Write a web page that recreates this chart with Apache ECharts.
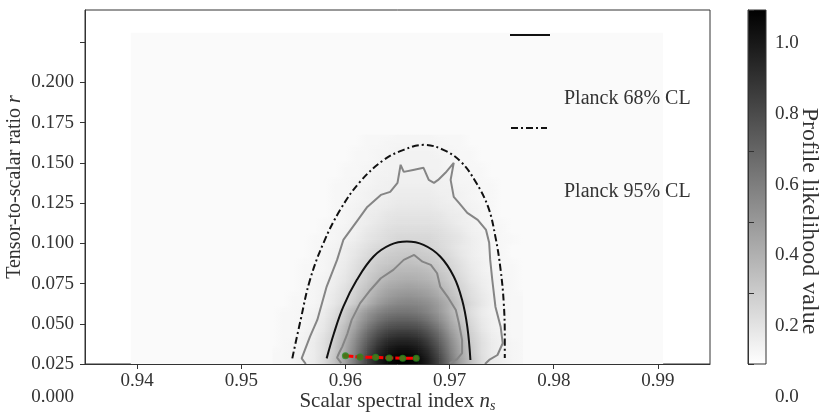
<!DOCTYPE html>
<html><head><meta charset="utf-8">
<script src="https://cdn.jsdelivr.net/npm/echarts@6/dist/echarts.min.js"></script>
<style>html,body{margin:0;padding:0;background:#fff}#chart{width:823px;height:412px}</style>
</head><body><div id="chart"></div>
<script>
// ---------------- data ----------------
const xTicks = [0.94, 0.95, 0.96, 0.97, 0.98, 0.99];
const yTicks = [0.025, 0.05, 0.075, 0.1, 0.125, 0.15, 0.175, 0.2, 0.225];
const yTickLabels = [0.025, 0.05, 0.075, 0.1, 0.125, 0.15, 0.175, 0.2];
const yExtraLabel = '0.000';
const cbTicks = [0, 0.2, 0.4, 0.6, 0.8, 1.0];
const colorbarRange = [0, 1];

// likelihood map: cell centres
const heatX = [0.953,0.954,0.955,0.956,0.957,0.958,0.959,0.960,0.961,0.962,0.963,0.964,0.965,0.966,0.967,0.968,0.969,0.970,0.971,0.972,0.973,0.974,0.975,0.976,0.977];
const heatY = [0.0275,0.0325,0.0375,0.0425,0.0475,0.0525,0.0575,0.0625,0.0675,0.0725,0.0775,0.0825,0.0875,0.0925,0.0975,0.1025,0.1075,0.1125,0.1175,0.1225,0.1275,0.1325,0.1375,0.1425,0.1475,0.1525,0.1575,0.1625,0.1675];
// rows from bottom (heatY[0]) to top
const likelihood = [
[0.03,0.03,0.04,0.06,0.08,0.14,0.24,0.37,0.54,0.73,0.87,0.97,1.00,1.00,0.97,0.87,0.73,0.54,0.37,0.24,0.14,0.08,0.06,0.04,0.03],
[0.03,0.03,0.04,0.05,0.08,0.13,0.22,0.35,0.51,0.69,0.83,0.92,0.96,0.96,0.92,0.83,0.69,0.51,0.35,0.22,0.13,0.08,0.05,0.04,0.03],
[0.02,0.03,0.04,0.05,0.08,0.13,0.21,0.33,0.48,0.64,0.77,0.86,0.89,0.89,0.86,0.77,0.64,0.48,0.33,0.21,0.13,0.08,0.05,0.04,0.03],
[0.02,0.03,0.03,0.05,0.07,0.12,0.19,0.30,0.44,0.59,0.70,0.78,0.81,0.81,0.78,0.70,0.59,0.44,0.30,0.19,0.12,0.07,0.05,0.03,0.03],
[0.02,0.03,0.03,0.04,0.06,0.10,0.17,0.27,0.38,0.52,0.62,0.69,0.71,0.71,0.69,0.62,0.52,0.38,0.27,0.17,0.10,0.06,0.04,0.03,0.03],
[0.02,0.03,0.03,0.04,0.06,0.09,0.15,0.23,0.34,0.45,0.54,0.60,0.62,0.62,0.60,0.54,0.45,0.34,0.23,0.15,0.09,0.06,0.04,0.03,0.03],
[0.02,0.03,0.03,0.04,0.05,0.08,0.13,0.21,0.30,0.40,0.47,0.52,0.54,0.54,0.52,0.47,0.40,0.30,0.21,0.13,0.08,0.05,0.04,0.03,0.03],
[0.02,0.02,0.03,0.03,0.04,0.06,0.10,0.15,0.22,0.30,0.38,0.44,0.47,0.48,0.47,0.44,0.38,0.30,0.22,0.15,0.10,0.06,0.04,0.03,0.03],
[0.02,0.02,0.03,0.03,0.04,0.06,0.09,0.13,0.19,0.26,0.33,0.38,0.41,0.42,0.41,0.38,0.33,0.26,0.19,0.13,0.09,0.06,0.04,0.03,0.03],
[0.02,0.02,0.02,0.03,0.04,0.05,0.08,0.12,0.17,0.23,0.29,0.34,0.36,0.37,0.36,0.34,0.29,0.23,0.17,0.12,0.08,0.05,0.04,0.03,0.02],
[0.02,0.02,0.02,0.03,0.04,0.05,0.07,0.10,0.15,0.20,0.25,0.29,0.31,0.32,0.31,0.29,0.25,0.20,0.15,0.10,0.07,0.05,0.04,0.03,0.02],
[0.02,0.02,0.02,0.03,0.03,0.04,0.06,0.09,0.13,0.18,0.22,0.26,0.28,0.28,0.28,0.26,0.22,0.18,0.13,0.09,0.06,0.04,0.03,0.03,0.02],
[0.02,0.02,0.02,0.03,0.03,0.04,0.06,0.08,0.12,0.16,0.20,0.22,0.24,0.25,0.24,0.22,0.20,0.16,0.12,0.08,0.06,0.04,0.03,0.03,0.02],
[0.02,0.02,0.02,0.02,0.03,0.04,0.05,0.07,0.10,0.14,0.17,0.20,0.21,0.22,0.21,0.20,0.17,0.14,0.10,0.07,0.05,0.04,0.03,0.02,0.02],
[0.02,0.02,0.02,0.02,0.03,0.04,0.05,0.07,0.09,0.12,0.15,0.17,0.19,0.19,0.19,0.17,0.15,0.12,0.09,0.07,0.05,0.04,0.03,0.02,0.02],
[0.02,0.02,0.02,0.02,0.03,0.03,0.04,0.05,0.07,0.10,0.12,0.14,0.16,0.16,0.16,0.16,0.14,0.12,0.10,0.07,0.05,0.04,0.03,0.03,0.02],
[0.02,0.02,0.02,0.02,0.02,0.03,0.04,0.05,0.06,0.09,0.11,0.13,0.14,0.14,0.14,0.14,0.13,0.11,0.09,0.06,0.05,0.04,0.03,0.02,0.02],
[0.02,0.02,0.02,0.02,0.02,0.03,0.03,0.04,0.06,0.07,0.09,0.11,0.12,0.12,0.12,0.12,0.11,0.09,0.07,0.06,0.04,0.03,0.03,0.02,0.02],
[0.02,0.02,0.02,0.02,0.02,0.02,0.03,0.04,0.05,0.07,0.08,0.10,0.11,0.11,0.11,0.11,0.10,0.08,0.07,0.05,0.04,0.03,0.02,0.02,0.02],
[0.02,0.02,0.02,0.02,0.02,0.02,0.03,0.04,0.05,0.06,0.07,0.08,0.09,0.09,0.09,0.09,0.08,0.07,0.06,0.05,0.04,0.03,0.02,0.02,0.02],
[0.02,0.02,0.02,0.02,0.02,0.02,0.03,0.03,0.04,0.05,0.06,0.07,0.08,0.08,0.08,0.08,0.07,0.06,0.05,0.04,0.03,0.03,0.02,0.02,0.02],
[0.02,0.02,0.02,0.02,0.02,0.02,0.03,0.03,0.04,0.05,0.06,0.06,0.07,0.07,0.07,0.07,0.06,0.06,0.05,0.04,0.03,0.03,0.02,0.02,0.02],
[0.02,0.02,0.02,0.02,0.02,0.02,0.03,0.03,0.04,0.04,0.05,0.06,0.06,0.06,0.06,0.06,0.06,0.05,0.04,0.04,0.03,0.03,0.02,0.02,0.02],
[0.02,0.02,0.02,0.02,0.02,0.02,0.02,0.03,0.03,0.04,0.05,0.05,0.06,0.06,0.06,0.06,0.05,0.05,0.04,0.03,0.03,0.02,0.02,0.02,0.02],
[0.02,0.02,0.02,0.02,0.02,0.02,0.02,0.03,0.03,0.04,0.04,0.05,0.05,0.05,0.05,0.05,0.05,0.04,0.04,0.03,0.03,0.02,0.02,0.02,0.02],
[0.02,0.02,0.02,0.02,0.02,0.02,0.02,0.02,0.03,0.03,0.04,0.05,0.05,0.05,0.05,0.05,0.05,0.04,0.03,0.03,0.02,0.02,0.02,0.02,0.02],
[0.02,0.02,0.02,0.02,0.02,0.02,0.02,0.02,0.03,0.03,0.04,0.04,0.05,0.05,0.05,0.05,0.04,0.04,0.03,0.03,0.02,0.02,0.02,0.02,0.02],
[0.02,0.02,0.02,0.02,0.02,0.02,0.02,0.02,0.02,0.03,0.03,0.04,0.04,0.04,0.04,0.04,0.04,0.03,0.03,0.02,0.02,0.02,0.02,0.02,0.02],
[0.02,0.02,0.02,0.02,0.02,0.02,0.02,0.02,0.02,0.03,0.03,0.03,0.04,0.04,0.04,0.04,0.03,0.03,0.03,0.02,0.02,0.02,0.02,0.02,0.02]
];
// faint level of the sampled domain outside the detailed map
const likelihoodDomainX = [0.9394, 0.9905];
const likelihoodDomainY = [0.025, 0.2308];
const domainLevel = 0.018;

// profile-likelihood contours (grey)
const contourOuter = [[0.9562,0.0250],[0.9558,0.0285],[0.9566,0.0420],[0.9573,0.0524],[0.9582,0.0731],[0.9592,0.0897],[0.9598,0.1021],[0.9612,0.1146],[0.9621,0.1226],[0.9634,0.1301],[0.9643,0.1320],[0.9650,0.1376],[0.9653,0.1488],[0.9656,0.1444],[0.9665,0.1456],[0.9675,0.1469],[0.9680,0.1394],[0.9685,0.1376],[0.9689,0.1394],[0.9696,0.1438],[0.9704,0.1500],[0.9701,0.1394],[0.9704,0.1289],[0.9709,0.1251],[0.9717,0.1189],[0.9727,0.1146],[0.9735,0.1083],[0.9738,0.1003],[0.9739,0.0897],[0.9741,0.0772],[0.9744,0.0606],[0.9749,0.0482],[0.9751,0.0379],[0.9746,0.0306],[0.9738,0.0275],[0.9734,0.0250]];
const contourInner = [[0.9596,0.0255],[0.9592,0.0290],[0.9594,0.0320],[0.9597,0.0358],[0.9602,0.0441],[0.9606,0.0524],[0.9614,0.0627],[0.9624,0.0710],[0.9634,0.0783],[0.9646,0.0835],[0.9656,0.0897],[0.9666,0.0928],[0.9674,0.0886],[0.9682,0.0866],[0.9688,0.0814],[0.9691,0.0731],[0.9699,0.0659],[0.9706,0.0586],[0.9709,0.0503],[0.9712,0.0399],[0.9712,0.0317],[0.9707,0.0279],[0.9700,0.0255]];

// Planck contours
const planck68 = [[0.9582,0.0285],[0.9589,0.0441],[0.9598,0.0607],[0.9611,0.0773],[0.9627,0.0918],[0.9643,0.0990],[0.9659,0.1011],[0.9675,0.0990],[0.9691,0.0918],[0.9704,0.0794],[0.9712,0.0649],[0.9717,0.0482],[0.9720,0.0275]];
const planck95 = [[0.9549,0.0285],[0.9557,0.0524],[0.9566,0.0773],[0.9579,0.1003],[0.9595,0.1208],[0.9614,0.1382],[0.9637,0.1519],[0.9656,0.1581],[0.9675,0.1612],[0.9694,0.1581],[0.9711,0.1506],[0.9725,0.1382],[0.9737,0.1226],[0.9744,0.1040],[0.9749,0.0835],[0.9752,0.0629],[0.9753,0.0418],[0.9753,0.0287]];

// best-fit track
const fitX = [0.9600, 0.9614, 0.9629, 0.9642, 0.9655, 0.9668];
const fitY = [0.0301, 0.0293, 0.0292, 0.0287, 0.0286, 0.0285];

// ---------------- chart ----------------
const FONT = 'Liberation Serif';
const TXT = '#333333';
const AX = '#333333';
const NR = heatY.length, NC = heatX.length;
const cellH = heatY[1] - heatY[0];

const heatData = [];
likelihood.forEach((row, r) => row.forEach((v, c) => heatData.push([heatX[c], heatY[r], v])));
const fitData = fitX.map((x, i) => [x, fitY[i]]);

function gray(v) {
  const g = Math.round(255 * (1 - Math.max(0, Math.min(1, v))));
  return 'rgb(' + g + ',' + g + ',' + g + ')';
}
function hGrad(vl, vr) {
  return new echarts.graphic.LinearGradient(0, 0, 1, 0, [{ offset: 0, color: gray(vl) }, { offset: 1, color: gray(vr) }]);
}
// each sample is drawn as the patch between its centre and its right/upper neighbours (smooth shading)
function renderCell(params, api) {
  const idx = params.dataIndex;
  const r = Math.floor(idx / NC), c = idx % NC;
  if (c === NC - 1 || r === NR - 1) return { type: 'group', children: [] };
  const x0 = api.value(0), y0 = api.value(1);
  const x1 = heatX[c + 1], y1 = heatY[r + 1];
  const vBL = likelihood[r][c], vBR = likelihood[r][c + 1];
  const vTL = likelihood[r + 1][c], vTR = likelihood[r + 1][c + 1];
  const pTL = api.coord([x0, y1]);
  const pBR = api.coord([x1, y0]);
  const w = pBR[0] - pTL[0], h = pBR[1] - pTL[1];
  const S = 4, children = [];
  for (let s = 0; s < S; s++) {
    const t = (s + 0.5) / S;
    children.push({ type: 'rect', shape: { x: pTL[0], y: pTL[1] + h * s / S, width: w + 0.6, height: h / S + 0.6 },
      style: { fill: hGrad(vTL + (vBL - vTL) * t, vTR + (vBR - vTR) * t) } });
  }
  if (r === 0) {
    const pB = api.coord([x1, y0 - cellH / 2]);
    children.push({ type: 'rect', shape: { x: pTL[0], y: pBR[1], width: w + 0.6, height: pB[1] - pBR[1] },
      style: { fill: hGrad(vBL, vBR) } });
  }
  return { type: 'group', children };
}
function renderDomain(params, api) {
  const p0 = api.coord([api.value(0), api.value(4)]);
  const p1 = api.coord([api.value(3), api.value(1)]);
  return { type: 'rect', shape: { x: p0[0], y: p0[1], width: p1[0] - p0[0], height: p1[1] - p0[1] },
           style: { fill: gray(api.value(2)) } };
}
function renderColorbar(params, api) {
  const p0 = api.coord([0, api.value(1)]);
  const p1 = api.coord([1, api.value(0)]);
  return { type: 'rect', shape: { x: p0[0], y: p0[1], width: p1[0] - p0[0], height: p1[1] - p0[1] },
           style: { fill: new echarts.graphic.LinearGradient(0, 0, 0, 1, [{ offset: 0, color: gray(api.value(1)) }, { offset: 1, color: gray(api.value(0)) }]),
                    stroke: AX, lineWidth: 1 } };
}

const chart = echarts.init(document.getElementById('chart'), null, { renderer: 'canvas' });
const labelFont = { fontFamily: FONT, fontSize: 19, color: TXT };

chart.setOption({
  animation: false,
  backgroundColor: '#ffffff',
  grid: [
    { left: 85, top: 10, width: 625, height: 354, show: true, borderColor: AX, borderWidth: 1, backgroundColor: 'transparent',
      containLabel: false, outerBoundsMode: 'none' },
    { left: 748, top: 10, width: 18, height: 354, containLabel: false, outerBoundsMode: 'none' }
  ],
  xAxis: [
    { gridIndex: 0, type: 'value', min: 0.935, max: 0.995, z: 10,
      axisLine: { show: true, onZero: false, lineStyle: { color: AX, width: 1 } },
      axisTick: { show: true, customValues: xTicks, length: 5, lineStyle: { color: AX } },
      axisLabel: Object.assign({ customValues: xTicks, formatter: v => v.toFixed(2), margin: 8 }, labelFont),
      splitLine: { show: false },
      name: 'Scalar spectral index {i|n}{s|s}', nameLocation: 'middle', nameGap: 26, nameMoveOverlap: false,
      nameTextStyle: { fontFamily: FONT, fontSize: 21, color: TXT,
        rich: { i: { fontFamily: FONT, fontSize: 21, fontStyle: 'italic', color: TXT },
                s: { fontFamily: FONT, fontSize: 14, fontStyle: 'italic', color: TXT, padding: [9, 0, 0, 0] } } } },
    { gridIndex: 1, type: 'value', min: 0, max: 1, show: false }
  ],
  yAxis: [
    { gridIndex: 0, type: 'value', min: 0.025, max: 0.245, z: 10,
      axisLine: { show: true, onZero: false, lineStyle: { color: AX, width: 1 } },
      axisTick: { show: true, customValues: yTicks, length: 5, lineStyle: { color: AX } },
      axisLabel: Object.assign({ customValues: yTickLabels, formatter: v => v.toFixed(3), margin: 11 }, labelFont),
      splitLine: { show: false },
      name: 'Tensor-to-scalar ratio {i|r}', nameLocation: 'middle', nameRotate: 90, nameGap: 60, nameMoveOverlap: false,
      nameTextStyle: { fontFamily: FONT, fontSize: 20, color: TXT,
        rich: { i: { fontFamily: FONT, fontSize: 20, fontStyle: 'italic', color: TXT } } } },
    { gridIndex: 1, type: 'value', min: 0, max: 1, position: 'right', z: 10,
      axisLine: { show: true, lineStyle: { color: AX } },
      axisTick: { show: true, customValues: cbTicks, length: 6, lineStyle: { color: AX } },
      axisLabel: Object.assign({ customValues: cbTicks, formatter: v => '{p|' + v.toFixed(1) + '}', margin: 9,
        rich: { p: { fontFamily: FONT, fontSize: 19, color: TXT, padding: [66, 0, 0, 0] } } }, labelFont),
      splitLine: { show: false },
      name: 'Profile likelihood value', nameLocation: 'middle', nameRotate: -90, nameGap: 31, nameMoveOverlap: false,
      nameTextStyle: { fontFamily: FONT, fontSize: 24, color: TXT, padding: [0, 0, 0, 68] } }
  ],
  legend: [
    { data: ['Planck 68% CL'], left: 509, top: 31, orient: 'vertical', padding: 0, itemWidth: 40, itemHeight: 10,
      selectedMode: false, itemStyle: { opacity: 0 }, formatter: n => '{p|' + n + '}',
      textStyle: { fontFamily: FONT, fontSize: 20, color: TXT,
        rich: { p: { fontFamily: FONT, fontSize: 20, color: TXT, padding: [128, 0, 0, 9] } } } },
    { data: ['Planck 95% CL'], left: 510, top: 124, orient: 'vertical', padding: 0, itemWidth: 36, itemHeight: 10,
      selectedMode: false, itemStyle: { opacity: 0 }, formatter: n => '{p|' + n + '}',
      textStyle: { fontFamily: FONT, fontSize: 20, color: TXT,
        rich: { p: { fontFamily: FONT, fontSize: 20, color: TXT, padding: [128, 0, 0, 12] } } } }
  ],
  graphic: [
    { type: 'text', silent: true, style: { text: yExtraLabel, x: 74, y: 397, align: 'right', verticalAlign: 'middle',
      font: '19px "Liberation Serif"', fill: TXT } }
  ],
  series: [
    { name: 'domain', type: 'custom', xAxisIndex: 0, yAxisIndex: 0, z: 1, silent: true,
      data: [[likelihoodDomainX[0], likelihoodDomainY[1], domainLevel, likelihoodDomainX[1], likelihoodDomainY[0]]],
      renderItem: renderDomain, encode: { x: [0, 3], y: [1, 4] } },
    { name: 'Profile likelihood', type: 'custom', xAxisIndex: 0, yAxisIndex: 0, z: 2, silent: true,
      data: heatData, renderItem: renderCell, encode: { x: 0, y: 1 } },
    { name: 'contour outer', type: 'line', xAxisIndex: 0, yAxisIndex: 0, z: 3, symbol: 'none', silent: true,
      data: contourOuter, lineStyle: { color: '#858585', width: 2 } },
    { name: 'contour inner', type: 'line', xAxisIndex: 0, yAxisIndex: 0, z: 3, symbol: 'none', silent: true,
      data: contourInner, lineStyle: { color: '#858585', width: 2 } },
    { name: 'Planck 68% CL', type: 'line', xAxisIndex: 0, yAxisIndex: 0, z: 4, symbol: 'none', smooth: 0.4, silent: true,
      data: planck68, itemStyle: { color: '#111111' }, lineStyle: { color: '#111111', width: 2 } },
    { name: 'Planck 95% CL', type: 'line', xAxisIndex: 0, yAxisIndex: 0, z: 4, symbol: 'none', smooth: 0.4, silent: true,
      data: planck95, itemStyle: { color: '#111111' }, lineStyle: { color: '#111111', width: 2, type: [7, 3, 2, 3] } },
    { name: 'best fit', type: 'line', xAxisIndex: 0, yAxisIndex: 0, z: 5, symbol: 'circle', symbolSize: 5, silent: true,
      data: fitData, itemStyle: { color: '#ff0000' }, lineStyle: { color: '#ff0000', width: 3, type: [8, 2] } },
    { name: 'best fit points', type: 'scatter', xAxisIndex: 0, yAxisIndex: 0, z: 6, symbolSize: 7, silent: true,
      data: fitData, itemStyle: { color: '#1f8f1f' } },
    { name: 'colorbar', type: 'custom', xAxisIndex: 1, yAxisIndex: 1, z: 2, silent: true,
      data: [[colorbarRange[0], colorbarRange[1]]], renderItem: renderColorbar, encode: { y: [0, 1] } }
  ]
});
</script></body></html>
